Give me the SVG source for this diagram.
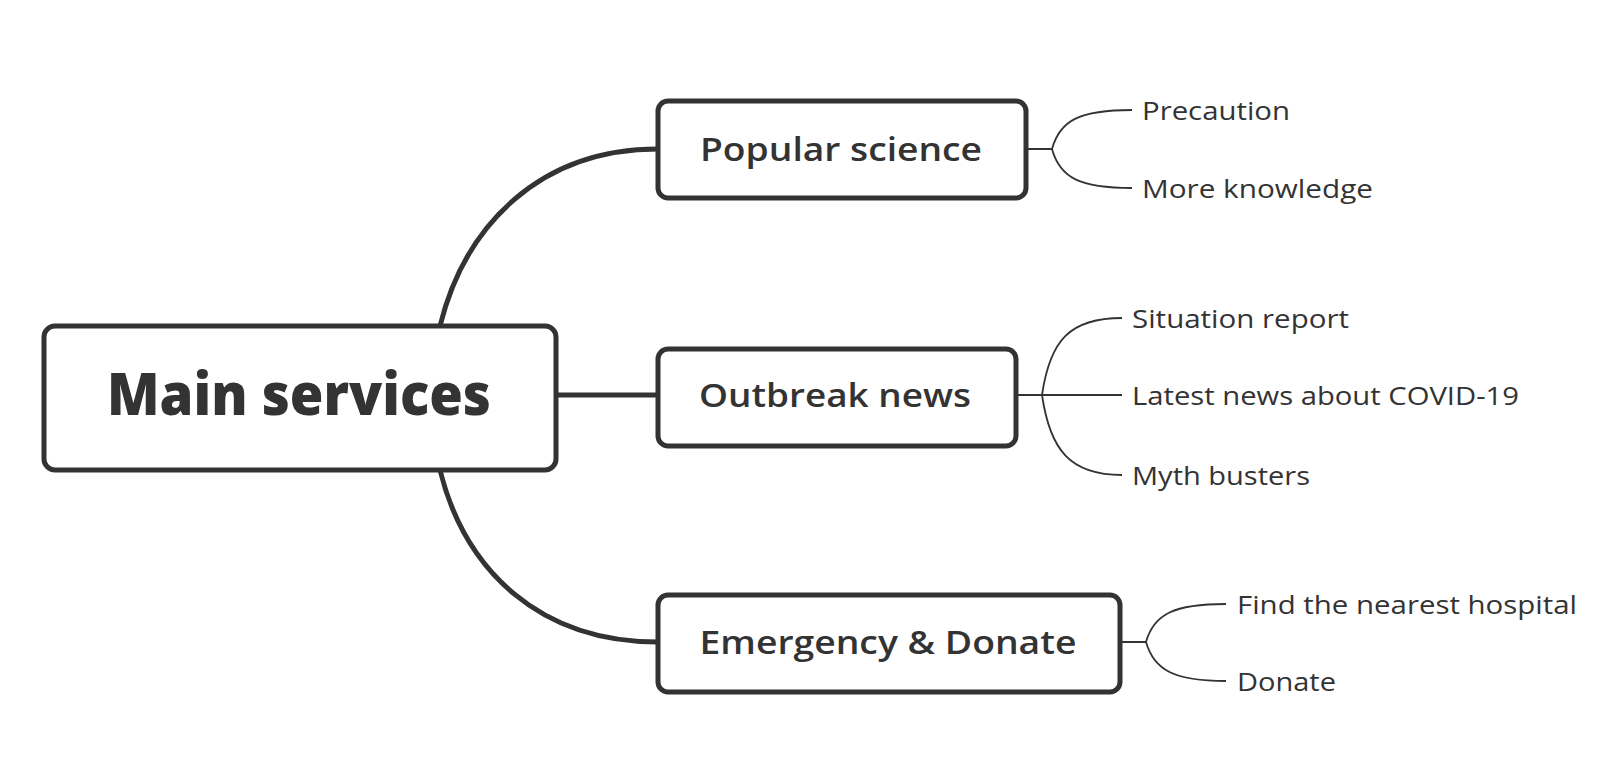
<svg xmlns="http://www.w3.org/2000/svg" width="1618" height="778" viewBox="0 0 1618 778">
<style>
.box{fill:#fff;stroke:#333;stroke-width:5}
.main{stroke:#333;stroke-width:5;fill:none}
.sub{stroke:#333;stroke-width:1.8;fill:none}
.t1{font-family:"Open Sans","Liberation Sans",sans-serif;font-weight:800;font-size:58px;fill:#333}
.t2{font-family:"Open Sans","Liberation Sans",sans-serif;font-weight:600;font-size:32px;fill:#333}
.t3{font-family:"Open Sans","Liberation Sans",sans-serif;font-weight:400;font-size:25px;fill:#333}
</style>
<rect width="1618" height="778" fill="#fff"/>
<g id="connectors">
<path class="main" d="M440 326 C465 225 540 149 658 149"/>
<path class="main" d="M556 395 L658 395"/>
<path class="main" d="M440 470 C465 571 540 642 658 642"/>
<path class="sub" d="M1026 149 L1052 149 M1052 149 C1060 120 1080 110 1132 110 M1052 149 C1060 178 1080 188 1132 188"/>
<path class="sub" d="M1016 395 L1122 395 M1042 395 C1050 340 1070 318 1122 318 M1042 395 C1050 450 1070 475 1122 475"/>
<path class="sub" d="M1120 642 L1146 642 M1146 642 C1154 614 1174 604 1226 604 M1146 642 C1154 670 1174 681 1226 681"/>
</g>
<g id="node-main">
<rect class="box" x="44" y="326" width="512" height="144" rx="11"/>
<text class="t1" x="299" y="392" text-anchor="middle" dominant-baseline="central" textLength="384" lengthAdjust="spacingAndGlyphs">Main services</text>
</g>
<g id="node-popular">
<rect class="box" x="658" y="101" width="368" height="97" rx="10"/>
<text class="t2" x="841" y="148" text-anchor="middle" dominant-baseline="central" textLength="282" lengthAdjust="spacingAndGlyphs">Popular science</text>
</g>
<g id="node-outbreak">
<rect class="box" x="658" y="349" width="358" height="97" rx="10"/>
<text class="t2" x="835" y="394" text-anchor="middle" dominant-baseline="central" textLength="272" lengthAdjust="spacingAndGlyphs">Outbreak news</text>
</g>
<g id="node-emergency">
<rect class="box" x="658" y="595" width="462" height="97" rx="10"/>
<text class="t2" x="888" y="641" text-anchor="middle" dominant-baseline="central" textLength="377" lengthAdjust="spacingAndGlyphs">Emergency &amp; Donate</text>
</g>
<g id="leaf-precaution"><text class="t3" x="1142" y="110" dominant-baseline="central" textLength="148" lengthAdjust="spacingAndGlyphs">Precaution</text></g>
<g id="leaf-knowledge"><text class="t3" x="1142" y="188" dominant-baseline="central" textLength="231" lengthAdjust="spacingAndGlyphs">More knowledge</text></g>
<g id="leaf-situation"><text class="t3" x="1132" y="318" dominant-baseline="central" textLength="217" lengthAdjust="spacingAndGlyphs">Situation report</text></g>
<g id="leaf-latest"><text class="t3" x="1132" y="395" dominant-baseline="central" textLength="387" lengthAdjust="spacingAndGlyphs">Latest news about COVID-19</text></g>
<g id="leaf-myth"><text class="t3" x="1132" y="475" dominant-baseline="central" textLength="178" lengthAdjust="spacingAndGlyphs">Myth busters</text></g>
<g id="leaf-hospital"><text class="t3" x="1237" y="604" dominant-baseline="central" textLength="340" lengthAdjust="spacingAndGlyphs">Find the nearest hospital</text></g>
<g id="leaf-donate"><text class="t3" x="1237" y="681" dominant-baseline="central" textLength="99" lengthAdjust="spacingAndGlyphs">Donate</text></g>
</svg>
